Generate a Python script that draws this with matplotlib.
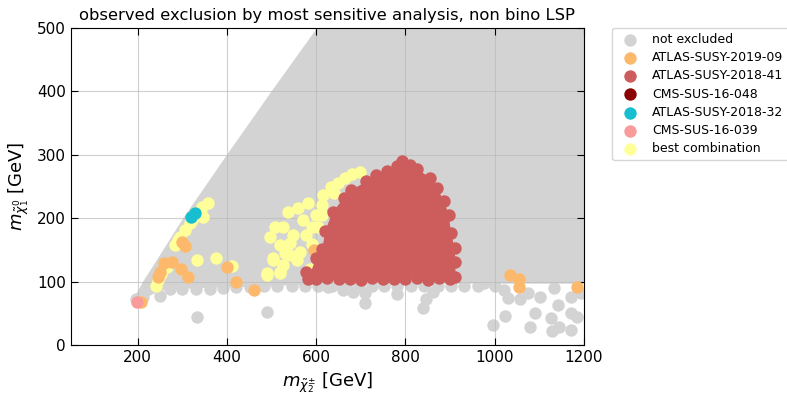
import matplotlib
matplotlib.use('Agg')
import matplotlib.pyplot as plt

# outline of the dense "not excluded" scan region (GeV)
grey_region_x = [190, 212, 250, 302, 400, 500, 602, 1210, 1210, 1000, 800, 600, 450, 330, 250, 205]
grey_region_y = [72, 100, 142, 200, 300, 400, 500, 500, 97, 97, 97, 96, 92, 90, 86, 70]

# single "not excluded" points along the lower edge and below it
grey_x = [195, 212, 250, 272, 300, 330, 362, 392, 420, 452, 482, 512, 545, 575, 605,
          636, 666, 695, 724, 752, 782, 812, 842, 872, 902, 932, 962, 975, 1000,
          333, 490, 627, 661, 683, 710, 710, 780, 845, 840, 861,
          996, 1020, 1029, 1022, 1056, 1074, 1090, 1079, 1101, 1126, 1128, 1141,
          1133, 1144, 1170, 1170, 1184, 1193, 1170]
grey_y = [72, 76, 78, 88, 88, 89, 88, 90, 92, 92, 93, 93, 94, 94, 94,
          94, 93, 94, 94, 93, 94, 94, 93, 94, 94, 93, 94, 98, 93,
          44, 52, 91, 87, 84, 82, 66, 80, 73, 58, 84,
          32, 87, 74, 46, 72, 82, 50, 28, 76, 43, 23, 63,
          90, 28, 24, 50, 44, 82, 76]

# ATLAS-SUSY-2018-41: dense block, outline of marker centres
red_x = [576, 582, 600, 614, 620, 637, 662, 678, 712, 735, 758, 780, 793, 810, 825,
         855, 870, 886, 897, 902, 910, 912, 912, 900, 875, 850, 825, 800, 775,
         750, 725, 700, 675, 650, 625, 600]
red_y = [115, 104, 138, 152, 180, 210, 232, 244, 258, 268, 275, 283, 291, 284, 278,
         264, 248, 228, 205, 177, 153, 131, 108, 104, 106, 103, 106, 104, 105,
         104, 106, 103, 105, 104, 106, 104]

yellow_x = [241, 245, 252, 265, 284, 290, 295, 306, 317, 322, 333, 344, 346, 358,
            333, 375, 412, 490, 503, 518,
            699, 665, 632, 616, 614, 614, 582, 560, 537, 571, 591, 508, 497, 526,
            549, 519, 542, 576, 605, 542, 564, 504, 526, 558, 490, 519, 680, 648,
            600, 590, 530, 585, 640]
yellow_y = [93, 103, 112, 123, 158, 166, 170, 181, 192, 197, 210, 218, 202, 224,
            135, 137, 124, 110, 135, 113,
            273, 263, 249, 237, 221, 205, 224, 216, 210, 197, 186, 186, 170, 186,
            173, 158, 161, 173, 186, 142, 147, 137, 126, 134, 114, 115, 270, 256,
            205, 160, 145, 120, 240]

orange_x = [207, 245, 250, 259, 277, 297, 313, 299, 306, 400, 421, 461, 594,
            1034, 1054, 1054, 1184]
orange_y = [68, 107, 115, 129, 131, 120, 107, 162, 157, 123, 99, 87, 150,
            110, 105, 91, 91]

cyan_x = [320, 328]
cyan_y = [202, 208]

pink_x = [198]
pink_y = [68]

c_grey = '#d3d3d3'
c_orange = '#fdb96b'
c_red = '#cd5c5c'
c_darkred = '#8b0000'
c_cyan = '#17becf'
c_pink = '#f99b9b'
c_yellow = '#ffff99'

S = 80

fig = plt.figure(figsize=(7.87, 3.94), dpi=100)
ax = fig.add_axes([0.090, 0.124, 0.652, 0.805])

ax.fill(grey_region_x, grey_region_y, color=c_grey, lw=0, zorder=1)
ax.scatter(grey_x, grey_y, s=S, color=c_grey, lw=0, zorder=1)
ax.scatter(yellow_x, yellow_y, s=S, color=c_yellow, lw=0, zorder=2)
ax.scatter(orange_x, orange_y, s=S, color=c_orange, lw=0, zorder=3)
ax.fill(red_x, red_y, color=c_red, lw=0, zorder=4)
ax.scatter(red_x, red_y, s=S, color=c_red, lw=0, zorder=4)
ax.scatter(cyan_x, cyan_y, s=S, color=c_cyan, lw=0, zorder=5)
ax.scatter(pink_x, pink_y, s=S, color=c_pink, lw=0, zorder=5)

# legend entries
labels = ['not excluded', 'ATLAS-SUSY-2019-09', 'ATLAS-SUSY-2018-41', 'CMS-SUS-16-048',
          'ATLAS-SUSY-2018-32', 'CMS-SUS-16-039', 'best combination']
colors = [c_grey, c_orange, c_red, c_darkred, c_cyan, c_pink, c_yellow]
handles = [ax.scatter([], [], s=S, color=c, lw=0, label=l) for l, c in zip(labels, colors)]
ax.legend(handles=handles, loc='upper left', bbox_to_anchor=(1.055, 1.0),
          borderaxespad=0, fontsize=9, handletextpad=0.8, labelspacing=0.42)

ax.set_xlim(50, 1200)
ax.set_ylim(0, 500)
ax.set_xticks([200, 400, 600, 800, 1000, 1200])
ax.set_yticks([0, 100, 200, 300, 400, 500])
ax.tick_params(direction='in', top=True, right=True, labelsize=11, length=5)
ax.grid(color='#bbbbbb', lw=0.8, alpha=0.7)
for g in ax.get_xgridlines() + ax.get_ygridlines():
    g.set_zorder(1.5)

ax.set_xlabel(r'$m_{\tilde{\chi}_2^{\pm}}$ [GeV]', fontsize=13)
ax.set_ylabel(r'$m_{\tilde{\chi}_1^0}$ [GeV]', fontsize=13)
ax.set_title('observed exclusion by most sensitive analysis, non bino LSP', fontsize=11.8)

fig.savefig('out.png', dpi=100)
